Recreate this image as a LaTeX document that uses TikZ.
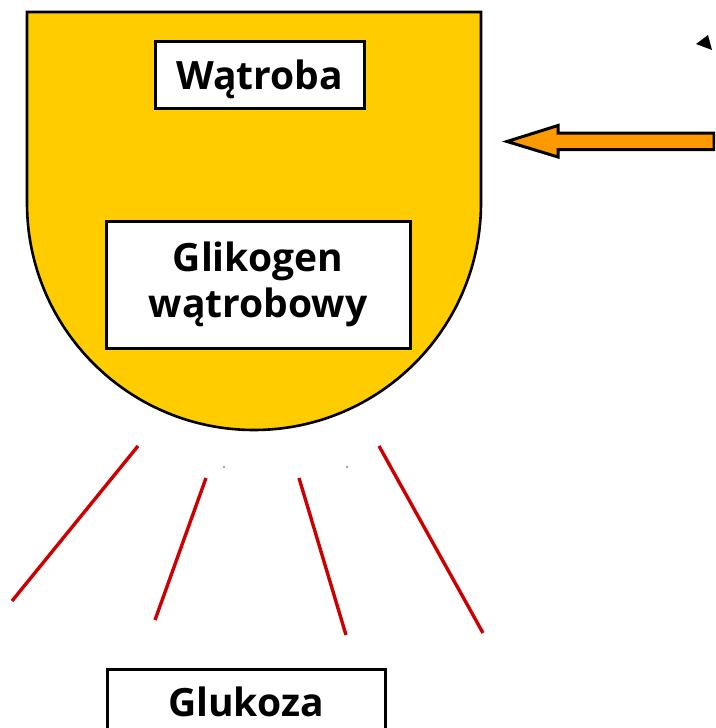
\documentclass[tikz,border=0pt]{standalone}
\usepackage{fontspec}
\setmainfont{Open Sans}
\definecolor{liveryellow}{HTML}{FFCC00}
\definecolor{arroworange}{HTML}{FF9900}
\definecolor{flowred}{HTML}{CC0000}
\begin{document}
\begin{tikzpicture}[x=1pt,y=-1pt,
  label font/.style={font=\fontsize{39}{46}\selectfont\bfseries},
  label box/.style={draw=black,line width=3pt,fill=white,inner sep=0pt,
    label font,align=center},
  flow line/.style={draw=flowred,line width=3.4pt},
  organ/.style={draw=black,line width=2.6pt,fill=liveryellow},
  big arrow/.style={draw=black,line width=3pt,fill=arroworange,line join=miter}]
\useasboundingbox (0,0) rectangle (715,728);
\clip (0,0) rectangle (715,728);

% liver: rectangle top with a semicircular bottom
\draw[organ] (27,12) -- (481,12) -- (481,203)
  arc[start angle=0,end angle=180,radius=227] -- cycle;

% labelled boxes
\node[label box,minimum width=209pt,minimum height=67pt,text depth=0pt] (liver) at (259.5,74.5) {Wątroba};
\node[label box,minimum width=304pt,minimum height=127pt] (glycogen) at (258,284.5) {Glikogen\\wątrobowy};
\node[label box,minimum width=278pt,minimum height=90pt,anchor=north] (glucose) at (246,668) {};
\node[label font,anchor=base] (glucosetext) at (246,716) {Glukoza};

% incoming arrow
\coordinate (tip) at (507,141.5);
\draw[big arrow] (tip) -- (558,125.5) -- (558,133) -- (714,133) -- (714,149.5)
  -- (558,149.5) -- (558,157) -- cycle;

% small arrowhead in the corner
\fill (696,44) -- (708,35) -- (712,50) -- cycle;

% red lines fanning out below the liver
\coordinate (a1) at (138,446); \coordinate (b1) at (12,601);
\coordinate (a2) at (206,478); \coordinate (b2) at (155,620);
\coordinate (a3) at (299,478); \coordinate (b3) at (346,635);
\coordinate (a4) at (379,446); \coordinate (b4) at (483,633);
\draw[flow line] (a1) -- (b1);
\draw[flow line] (a2) -- (b2);
\draw[flow line] (a3) -- (b3);
\draw[flow line] (a4) -- (b4);

% two tiny marks
\fill[black!70] (224,467) circle (0.9);
\fill[black!70] (347,467) circle (0.9);
\end{tikzpicture}
\end{document}
